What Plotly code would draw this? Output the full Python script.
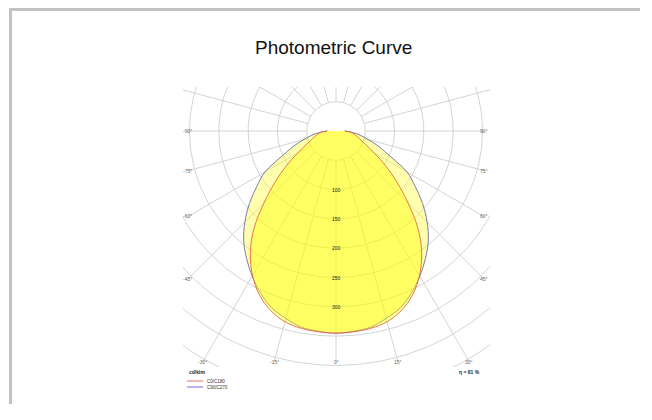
import numpy as np
import plotly.graph_objects as go

# ---------------- data ----------------
angles = [0, 5, 10, 15, 20, 25, 30, 35, 40, 45, 50, 55, 60, 65, 70, 75, 80, 85, 90]
c0_c180 = [345, 344, 342, 337, 326, 309, 285, 255, 218, 174, 136, 103, 76, 57, 45, 38, 32, 25, 15]
c90_c270 = [345, 343, 340, 331, 321, 305, 286, 266, 245, 220, 193, 165, 140, 102, 78, 58, 42, 28, 15]
ring_values = [50, 100, 150, 200, 250, 300, 350, 400, 450]
ring_labels = [100, 150, 200, 250, 300]
angle_ticks = [-90, -75, -60, -45, -30, -15, 0, 15, 30, 45, 60, 75, 90]
series_names = ["C0/C180", "C90/C270"]
unit_text = "cd/klm"
eta_text = "η = 81 %"

# ---------------- geometry (styling) ----------------
OFF = 8                    # page body margin
W, H = 632, 396
OX, OY = 336 - OFF, 131 - OFF   # pixel position of the polar origin (figure coords)
S = 0.586                  # px per cd
L, R, T, B = 183 - OFF, 490 - OFF, 87 - OFF, 367 - OFF   # plot rectangle (px)
LBL_HALF = 148 / S         # label rectangle half width (cd)
LBL_BOTTOM = 231 / S       # label rectangle bottom (cd)

xr = [(L - OX) / S, (R - OX) / S]
yr = [-(B - OY) / S, (OY - T) / S]

GRID = "#c9c9c9"


def px(xp):
    return (xp - OFF) / W


def py(yp):
    return 1 - (yp - OFF) / H


def polar_xy(theta_deg, r):
    t = np.radians(np.asarray(theta_deg, dtype=float))
    r = np.asarray(r, dtype=float)
    return r * np.sin(t), -r * np.cos(t)


fig = go.Figure()

# grid circles
for v in ring_values:
    th = np.linspace(0, 360, 361)
    x, y = polar_xy(th, np.full_like(th, v))
    fig.add_trace(go.Scatter(x=x, y=y, mode="lines", line=dict(color=GRID, width=0.8),
                             hoverinfo="skip", showlegend=False))

# grid radials
for a in range(-180, 180, 15):
    s, c = abs(np.sin(np.radians(a))), np.cos(np.radians(a))
    if abs(a) <= 90:
        lims = []
        if s > 1e-9:
            lims.append(LBL_HALF / s)
        if c > 1e-9:
            lims.append(LBL_BOTTOM / c)
        rend = min(lims)
    else:
        rend = 800
    x, y = polar_xy([a, a], [ring_values[0], rend])
    fig.add_trace(go.Scatter(x=x, y=y, mode="lines", line=dict(color=GRID, width=0.8),
                             hoverinfo="skip", showlegend=False))


def full_curve(vals):
    th = [-a for a in angles[::-1]] + angles[1:]
    rr = vals[::-1] + vals[1:]
    return polar_xy(th, rr)


# C90/C270 (wide, pale)
x, y = full_curve(c90_c270)
fig.add_trace(go.Scatter(x=x, y=y, mode="lines", fill="toself",
                         fillcolor="rgba(255,255,0,0.32)",
                         line=dict(color="#5a5aa0", width=0.8, shape="spline"),
                         name=series_names[1], showlegend=False))
# C0/C180 (narrow)
x, y = full_curve(c0_c180)
fig.add_trace(go.Scatter(x=x, y=y, mode="lines", fill="toself",
                         fillcolor="rgba(255,255,0,0.42)",
                         line=dict(color="#e8553c", width=0.8, shape="spline"),
                         name=series_names[0], showlegend=False))

annotations = []
# ring labels
for v in ring_labels:
    annotations.append(dict(x=0, y=-v, xref="x", yref="y", text=str(v), showarrow=False,
                            font=dict(size=5, color="#222", family="Liberation Sans, Arial"),
                            xanchor="center", yanchor="middle"))
# angle labels
for a in angle_ticks:
    s, c = np.sin(np.radians(a)), np.cos(np.radians(a))
    lims = []
    if abs(s) > 1e-9:
        lims.append(LBL_HALF / abs(s))
    if c > 1e-9:
        lims.append(LBL_BOTTOM / c)
    rend = min(lims)
    x, y = polar_xy(a, rend)
    annotations.append(dict(x=float(x), y=float(y), xref="x", yref="y", text=f"{a}°",
                            showarrow=False,
                            font=dict(size=5, color="#666", family="Liberation Sans, Arial"),
                            xanchor="center", yanchor="middle"))

F = "Liberation Sans, Arial, sans-serif"
annotations += [
    dict(x=px(333), y=py(48), xref="paper", yref="paper", text="Photometric Curve",
         showarrow=False, font=dict(size=19, color="#111", family=F),
         xanchor="center", yanchor="middle"),
    dict(x=px(187), y=py(372), xref="paper", yref="paper", text=f"<b>{unit_text}</b>",
         showarrow=False, font=dict(size=5, color="#222", family=F),
         xanchor="left", yanchor="middle"),
    dict(x=px(482), y=py(372), xref="paper", yref="paper", text=f"<b>{eta_text}</b>",
         showarrow=False, font=dict(size=5, color="#222", family=F),
         xanchor="right", yanchor="middle"),
    dict(x=px(205), y=py(381), xref="paper", yref="paper", text=series_names[0],
         showarrow=False, font=dict(size=4.5, color="#333", family=F),
         xanchor="left", yanchor="middle"),
    dict(x=px(205), y=py(387), xref="paper", yref="paper", text=series_names[1],
         showarrow=False, font=dict(size=4.5, color="#333", family=F),
         xanchor="left", yanchor="middle"),
]

BORDER = dict(color="#c2c2c2", width=3)
shapes = [
    # card border: only the left and top edges are inside the view
    dict(type="line", xref="paper", yref="paper", x0=px(10.5), x1=px(10.5), y0=py(8), y1=0,
         line=BORDER, layer="below"),
    dict(type="line", xref="paper", yref="paper", x0=px(9), x1=1, y0=py(9.5), y1=py(9.5),
         line=BORDER, layer="below"),
    dict(type="line", xref="paper", yref="paper", x0=px(187), x1=px(203),
         y0=py(381), y1=py(381), line=dict(color="#f06a6a", width=1)),
    dict(type="line", xref="paper", yref="paper", x0=px(187), x1=px(203),
         y0=py(387), y1=py(387), line=dict(color="#6a6af0", width=1)),
]

fig.update_layout(
    width=W, height=H, margin=dict(l=0, r=0, t=0, b=0),
    paper_bgcolor="white", plot_bgcolor="rgba(0,0,0,0)",
    xaxis=dict(range=xr, domain=[L / W, R / W], visible=False, fixedrange=True),
    yaxis=dict(range=yr, domain=[1 - B / H, 1 - T / H], visible=False, fixedrange=True),
    annotations=annotations, shapes=shapes, showlegend=False,
)

fig.write_html("out.html")
